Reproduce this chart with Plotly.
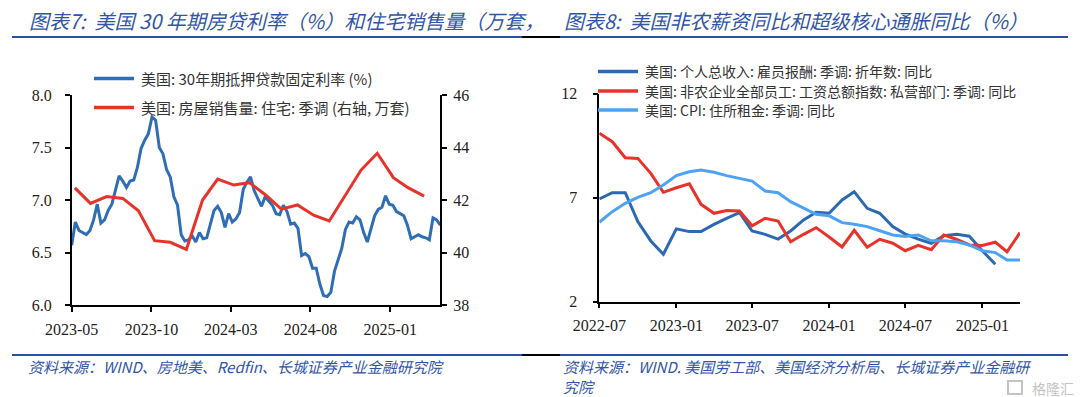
import plotly.graph_objects as go
import pandas as pd

W, H = 1080, 397

# ---------------- Left chart data (图表7) ----------------
rate_start = "2023-05-25"
rate_values = [
    6.57, 6.79, 6.71, 6.69, 6.67, 6.71, 6.81, 6.96, 6.78, 6.81, 6.90, 6.96, 7.09, 7.23,
    7.18, 7.12, 7.18, 7.19, 7.31, 7.49, 7.57, 7.63, 7.79, 7.76, 7.50, 7.44, 7.29, 7.22,
    7.03, 6.95, 6.67, 6.61, 6.62, 6.66, 6.60, 6.69, 6.63, 6.64, 6.77, 6.90, 6.94, 6.88,
    6.74, 6.87, 6.79, 6.82, 6.88, 7.10, 7.17, 7.22, 7.09, 7.02, 6.94, 7.03, 6.99, 6.95,
    6.87, 6.86, 6.95, 6.89, 6.77, 6.78, 6.73, 6.47, 6.49, 6.46, 6.35, 6.35, 6.20, 6.09,
    6.08, 6.12, 6.32, 6.44, 6.54, 6.72, 6.79, 6.78, 6.84, 6.81, 6.69, 6.60, 6.72, 6.85,
    6.91, 6.93, 7.04, 6.96, 6.95, 6.89, 6.87, 6.85, 6.76, 6.63, 6.65, 6.67, 6.65, 6.64,
    6.62, 6.83, 6.81, 6.76,
]
rate_dates = pd.date_range(rate_start, periods=len(rate_values), freq="7D")

sales_start = "2023-05-31"
sales_values = [
    42.46, 41.87, 42.13, 42.06, 41.59, 40.45, 40.39, 40.12, 42.00, 42.80, 42.57, 42.66,
    42.19, 41.65, 41.81, 41.42, 41.20, 42.20, 43.14, 43.78, 42.85, 42.47, 42.15,
]
sales_dates = pd.date_range(sales_start, periods=len(sales_values), freq="ME")

left_names = ["美国: 30年期抵押贷款固定利率 (%)", "美国: 房屋销售量: 住宅: 季调 (右轴, 万套)"]
left_x_range = ["2023-05-25", "2025-05-01"]
left_y_ticks = [6.0, 6.5, 7.0, 7.5, 8.0]
left_y2_ticks = [38, 40, 42, 44, 46]

# ---------------- Right chart data (图表8) ----------------
wage_start = "2022-07-01"
comp_values = [
    6.94, 7.24, 7.24, 5.85, 4.92, 4.28, 5.50, 5.37, 5.37, 5.72, 6.01, 6.28,
    5.40, 5.24, 5.01, 5.40, 5.93, 6.30, 6.25, 6.89, 7.29, 6.49, 6.25, 5.61,
    5.25, 5.01, 4.81, 5.17, 5.24, 5.15, 4.45, 3.80,
]
payroll_values = [
    10.10, 9.69, 8.92, 8.89, 8.17, 7.26, 7.48, 7.67, 6.68, 6.25, 6.38, 6.36,
    5.65, 6.01, 5.88, 4.88, 5.24, 5.56, 5.11, 4.63, 5.43, 4.62, 5.00, 4.81,
    4.45, 4.71, 4.50, 5.21, 4.99, 4.73, 4.70, 4.86, 4.40, 5.32,
]
rent_values = [
    5.82, 6.33, 6.73, 7.02, 7.24, 7.61, 8.06, 8.25, 8.33, 8.22, 8.06, 7.93,
    7.80, 7.32, 7.24, 6.81, 6.49, 6.20, 6.13, 5.80, 5.72, 5.61, 5.41, 5.21,
    5.13, 5.21, 4.93, 4.93, 4.88, 4.73, 4.45, 4.36, 4.00, 4.00,
]
wage_dates = pd.date_range(wage_start, periods=len(payroll_values), freq="MS")
right_names = [
    "美国: 个人总收入: 雇员报酬: 季调: 折年数: 同比",
    "美国: 非农企业全部员工: 工资总额指数: 私营部门: 季调: 同比",
    "美国: CPI: 住所租金: 季调: 同比",
]
right_x_range = ["2022-07-01", "2025-04-01"]
right_y_ticks = [2, 7, 12]

titles = ["图表7:  美国 30 年期房贷利率（%）和住宅销售量（万套，",
          "图表8:  美国非农薪资同比和超级核心通胀同比（%）"]
sources = ["资料来源：WIND、房地美、Redfin、长城证券产业金融研究院",
           "资料来源：WIND. 美国劳工部、美国经济分析局、长城证券产业金融研",
           "究院"]
watermark = "格隆汇"

# ---------------- styling ----------------
BLUE = "#2F6DB5"
RED = "#E8332A"
DBLUE = "#2C69B0"
LBLUE = "#4DA3F2"
TITLE_C = "#3155A6"
AX_FONT = dict(family="Liberation Serif, DejaVu Serif, serif", size=16, color="#222222")
CJK = "Noto Sans CJK SC, Noto Sans, sans-serif"


def px(x):
    return x / W


def py(y):
    return 1 - y / H


fig = go.Figure()
fig.add_trace(go.Scatter(x=rate_dates, y=rate_values, mode="lines", name=left_names[0],
                         line=dict(color=BLUE, width=3), xaxis="x", yaxis="y"))
fig.add_trace(go.Scatter(x=sales_dates, y=sales_values, mode="lines", name=left_names[1],
                         line=dict(color=RED, width=3), xaxis="x", yaxis="y2"))
fig.add_trace(go.Scatter(x=wage_dates[:len(comp_values)], y=comp_values, mode="lines",
                         name=right_names[0], line=dict(color=DBLUE, width=3),
                         xaxis="x3", yaxis="y3"))
fig.add_trace(go.Scatter(x=wage_dates, y=payroll_values, mode="lines", name=right_names[1],
                         line=dict(color=RED, width=3), xaxis="x3", yaxis="y3"))
fig.add_trace(go.Scatter(x=wage_dates, y=rent_values, mode="lines", name=right_names[2],
                         line=dict(color=LBLUE, width=3), xaxis="x3", yaxis="y3"))

axis_common = dict(showline=True, linecolor="black", linewidth=1.5, ticks="outside",
                   ticklen=5, tickcolor="black", tickwidth=1.5, showgrid=False,
                   zeroline=False, tickfont=AX_FONT, automargin=False)

fig.update_layout(
    template="none",
    width=W, height=H, margin=dict(l=0, r=0, t=0, b=0, pad=0), autosize=False,
    paper_bgcolor="white", plot_bgcolor="white", showlegend=False,
    xaxis=dict(domain=[px(71.7), px(440.3)], anchor="y", type="date", range=left_x_range,
               tick0=left_x_range[0], dtick="M5", tickformat="%Y-%m",
               ticklabelstandoff=4, **axis_common),
    yaxis=dict(domain=[py(305), py(95)], anchor="x", range=[6, 8], tickvals=left_y_ticks,
               tickformat=".1f", ticklabelstandoff=10, **axis_common),
    yaxis2=dict(domain=[py(305), py(95)], anchor="x", overlaying="y", side="right",
                range=[38, 46], tickvals=left_y2_ticks, ticklabelstandoff=3, **axis_common),
    xaxis3=dict(domain=[px(599.3), px(1020)], anchor="y3", type="date", range=right_x_range,
                tick0=right_x_range[0], dtick="M6", tickformat="%Y-%m",
                ticklabelstandoff=3, **axis_common),
    yaxis3=dict(domain=[py(301.7), py(93.7)], anchor="x3", range=[2, 12],
                tickvals=right_y_ticks, ticklabelstandoff=12, **axis_common),
)

shapes = []
# rules under titles and above sources
for yy in (37, 355):
    shapes.append(dict(type="line", xref="paper", yref="paper", x0=px(12), x1=px(522),
                       y0=py(yy), y1=py(yy), line=dict(color="#2B4FA0", width=2)))
    shapes.append(dict(type="line", xref="paper", yref="paper", x0=px(522), x1=px(560),
                       y0=py(yy), y1=py(yy), line=dict(color="black", width=2)))
    shapes.append(dict(type="line", xref="paper", yref="paper", x0=px(560), x1=px(1068),
                       y0=py(yy), y1=py(yy), line=dict(color="#2B4FA0", width=2)))

annotations = []
# legends
legend_rows = [
    (left_names[0], BLUE, 94, 134, 139, 78.5, 15),
    (left_names[1], RED, 94, 134, 139, 107.5, 15),
    (right_names[0], DBLUE, 598, 638, 643, 71.5, 14),
    (right_names[1], RED, 598, 638, 643, 91, 14),
    (right_names[2], LBLUE, 598, 638, 643, 110, 14),
]
for name, col, lx0, lx1, tx, ty, fs in legend_rows:
    shapes.append(dict(type="line", xref="paper", yref="paper", x0=px(lx0), x1=px(lx1),
                       y0=py(ty), y1=py(ty), line=dict(color=col, width=3.5)))
    annotations.append(dict(text=name, xref="paper", yref="paper", x=px(tx), y=py(ty),
                            xanchor="left", yanchor="middle", showarrow=False,
                            font=dict(family=CJK, size=fs, color="#333333")))

# titles
for t, x0 in zip(titles, (27, 562)):
    annotations.append(dict(text="<i>" + t + "</i>", xref="paper", yref="paper", x=px(x0),
                            y=py(20), xanchor="left", yanchor="middle", showarrow=False,
                            font=dict(family=CJK, size=20, color=TITLE_C)))
# sources
for t, x0, y0 in zip(sources, (27, 562, 562), (366, 366, 386)):
    annotations.append(dict(text="<i>" + t + "</i>", xref="paper", yref="paper", x=px(x0),
                            y=py(y0), xanchor="left", yanchor="middle", showarrow=False,
                            borderpad=0, font=dict(family=CJK, size=15, color=TITLE_C)))
# watermark (logo box + text)
shapes.append(dict(type="rect", xref="paper", yref="paper", x0=px(1008), x1=px(1022),
                   y0=py(394), y1=py(381), line=dict(color="#C4C4C4", width=2)))
annotations.append(dict(text=watermark, xref="paper", yref="paper", x=px(1075), y=py(388),
                        xanchor="right", yanchor="middle", showarrow=False, borderpad=0,
                        font=dict(family=CJK, size=14, color="#C4C4C4")))

fig.update_layout(shapes=shapes, annotations=annotations)
fig.write_html("out.html", config={"displayModeBar": False},
               post_script="document.body.style.margin='0';document.body.style.overflow='hidden';")
